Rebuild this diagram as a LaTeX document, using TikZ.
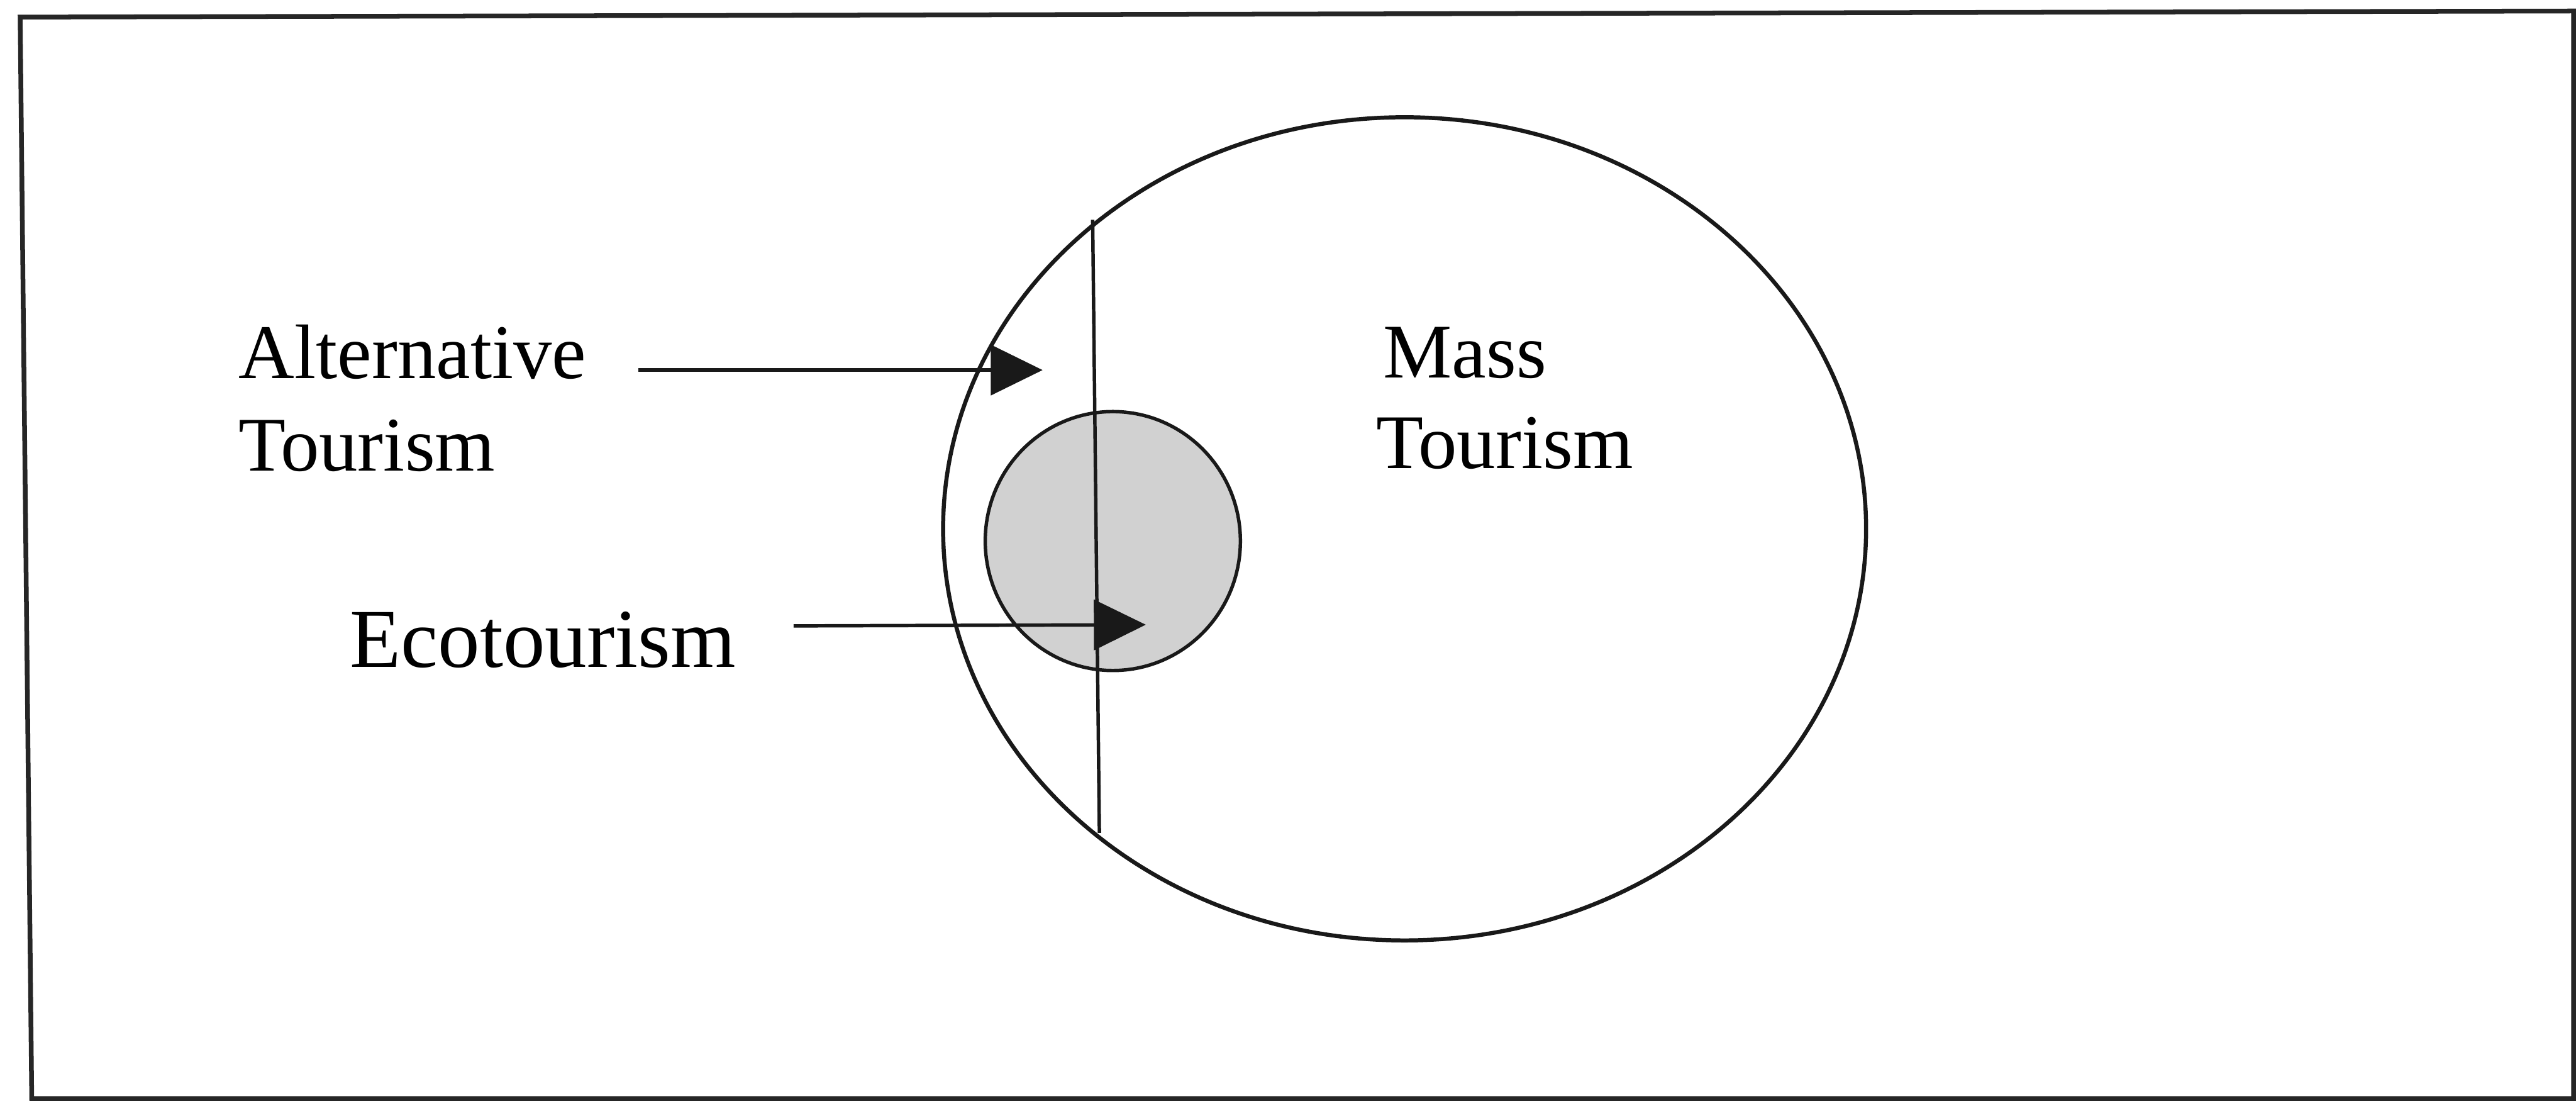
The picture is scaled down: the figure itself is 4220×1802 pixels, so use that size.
\documentclass[tikz,border=0pt]{standalone}
\usepackage{fontspec}
\setmainfont{Liberation Serif}
\usetikzlibrary{arrows.meta}
\begin{document}
\begin{tikzpicture}[x=0.01cm,y=-0.01cm,
  frameline/.style={line width=2.2pt,draw=black!85},
  thinline/.style={line width=1.6pt,draw=black!90},
  lbl/.style={inner sep=0pt,outer sep=0pt,anchor=base west,font=\fontsize{36}{43}\selectfont},
  ecolbl/.style={lbl,font=\fontsize{39}{46}\selectfont},
  pointer/.style={thinline,-{Triangle[length=0.85cm,width=0.82cm]}}]
\useasboundingbox (0,0) rectangle (4220,1802);
% frame
\draw[frameline] (33,28) -- (4216,18) -- (4216,1799) -- (52,1799) -- cycle;
% ecotourism circle
\filldraw[thinline,fill=black!18] (1823,886) ellipse [x radius=209,y radius=212];
% mass tourism ellipse
\draw[line width=1.9pt,draw=black!90] (2301,866) ellipse [x radius=756,y radius=674];
% dividing chord
\coordinate (chordtop) at (1790,360);
\coordinate (chordbot) at (1801,1364);
\draw[thinline] (chordtop) -- (chordbot);
% labels
\node[lbl] (alt1) at (391,620) {Alternative};
\node[lbl] (alt2) at (391,771) {Tourism};
\node[lbl] (mass1) at (2266,619) {Mass};
\node[lbl] (mass2) at (2255,767) {Tourism};
\node[ecolbl] (eco) at (573,1093) {Ecotourism};
% pointers
\coordinate (altstart) at (1046,606);
\coordinate (alttip) at (1708,606);
\coordinate (ecostart) at (1300,1025);
\coordinate (ecotip) at (1877,1023);
\draw[pointer] (altstart) -- (alttip);
\draw[pointer] (ecostart) -- (ecotip);
\end{tikzpicture}
\end{document}
